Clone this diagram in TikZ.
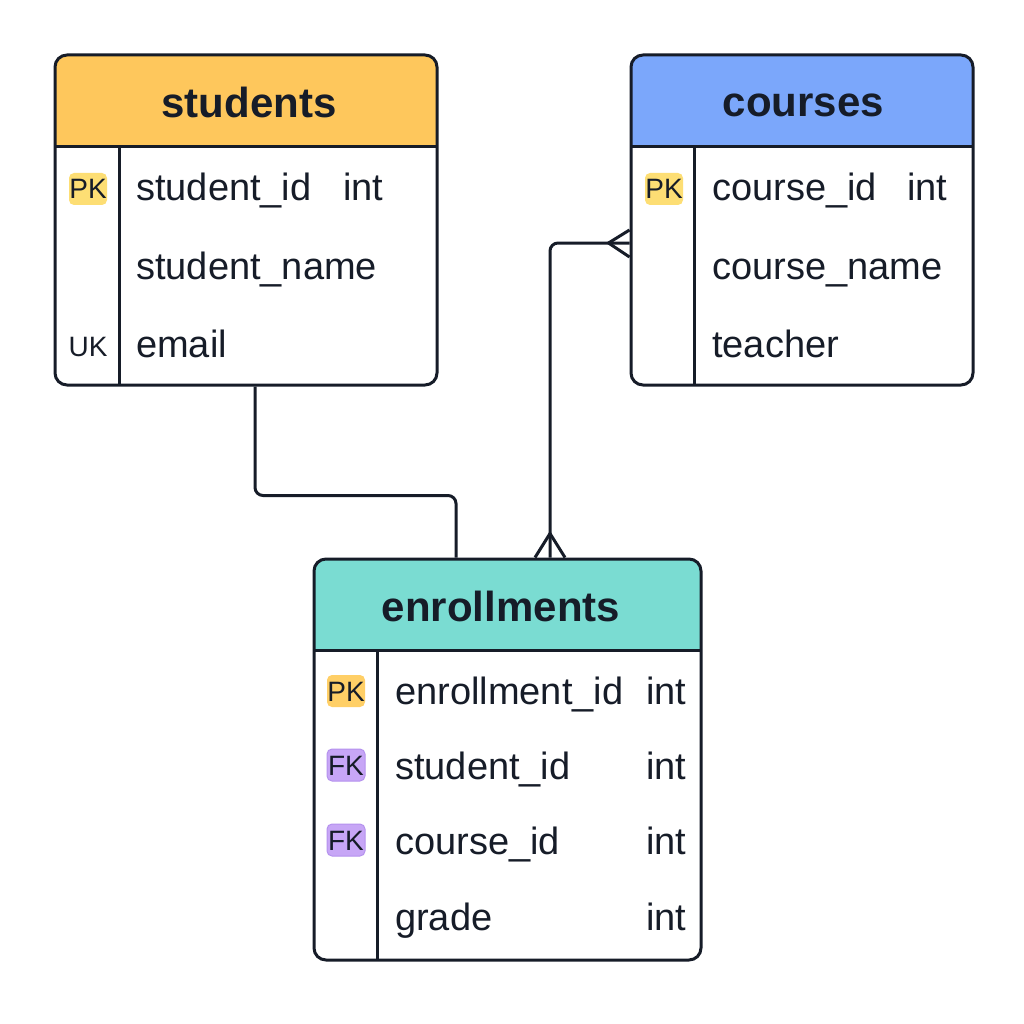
\documentclass[tikz,border=0pt]{standalone}
\usepackage{fontspec}
\setmainfont{Liberation Sans}
\definecolor{ink}{HTML}{161C28}
\definecolor{hstud}{HTML}{FEC75C}
\definecolor{hcour}{HTML}{7BA7FB}
\definecolor{henr}{HTML}{7ADCD2}
\definecolor{pkA}{HTML}{FDDE74}
\definecolor{pkB}{HTML}{FFCF66}
\definecolor{fkC}{HTML}{C7A6F6}
\definecolor{fkD}{HTML}{B592EE}
\tikzset{
  tablebox/.style={draw=ink, line width=3pt, rounded corners=12pt, inner sep=0pt, fill=none},
  sepline/.style={draw=ink, line width=3pt},
  conn/.style={draw=ink, line width=3pt, rounded corners=8pt, line join=round},
  foot/.style={draw=ink, line width=3pt, line join=miter},
  hdrtxt/.style={text=ink, font=\bfseries\fontsize{42}{48}\selectfont, anchor=base, inner sep=0pt},
  rowtxt/.style={text=ink, font=\fontsize{38}{44}\selectfont, anchor=base west, inner sep=0pt},
  badge/.style={rounded corners=5pt, minimum width=38pt, minimum height=32pt, inner sep=0pt,
     text height=20pt, text depth=0pt, text=ink, font=\fontsize{28}{32}\selectfont},
  keytxt/.style={text=ink, font=\fontsize{28}{32}\selectfont, anchor=base, inner sep=0pt}
}
\begin{document}
\begin{tikzpicture}[x=1pt,y=-1pt]
\useasboundingbox (0,0) rectangle (1024,1024);
\fill[white] (0,0) rectangle (1024,1024);

% ---------- students ----------
\begin{scope}
  \clip[rounded corners=12pt] (55,55) rectangle (437,385);
  \fill[hstud] (55,55) rectangle (437,147);
\end{scope}
\node[tablebox, minimum width=382pt, minimum height=330pt] (students) at (246,220) {};
\draw[sepline] (55,147) -- (437,147);
\draw[sepline] (119,147) -- (119,385);
\node[hdrtxt] (sh) at (249,118) {students};
\node[badge, fill=pkA] (spk) at (88,189) {PK};
\node[keytxt] (suk) at (88,356) {UK};
\node[rowtxt] (s1) at (136,201) {student\_id};
\node[rowtxt] (s1t) at (343,201) {int};
\node[rowtxt] (s2) at (136,279) {student\_name};
\node[rowtxt] (s3) at (136,357) {email};

% ---------- courses ----------
\begin{scope}
  \clip[rounded corners=12pt] (631,55) rectangle (973,385);
  \fill[hcour] (631,55) rectangle (973,147);
\end{scope}
\node[tablebox, minimum width=342pt, minimum height=330pt] (courses) at (802,220) {};
\draw[sepline] (631,147) -- (973,147);
\draw[sepline] (694,147) -- (694,385);
\node[hdrtxt] (ch) at (803.5,117) {courses};
\node[badge, fill=pkA] (cpk) at (664,189) {PK};
\node[rowtxt] (c1) at (712,201) {course\_id};
\node[rowtxt] (c1t) at (907,201) {int};
\node[rowtxt] (c2) at (712,279) {course\_name};
\node[rowtxt] (c3) at (712,357) {teacher};

% ---------- enrollments ----------
\begin{scope}
  \clip[rounded corners=12pt] (314,559) rectangle (701,960);
  \fill[henr] (314,559) rectangle (701,650);
\end{scope}
\node[tablebox, minimum width=387pt, minimum height=401pt] (enroll) at (507.5,759.5) {};
\draw[sepline] (314,650) -- (701,650);
\draw[sepline] (377,650) -- (377,960);
\node[hdrtxt] (eh) at (501,621) {enrollments};
\node[badge, fill=pkB] (epk) at (346,691) {PK};
\node[badge, fill=fkC, draw=fkD, line width=1pt] (efk1) at (346,765) {FK};
\node[badge, fill=fkC, draw=fkD, line width=1pt] (efk2) at (346,840) {FK};
\node[rowtxt] (e1) at (395,704) {enrollment\_id};
\node[rowtxt] (e1t) at (646,704) {int};
\node[rowtxt] (e2) at (395,779) {student\_id};
\node[rowtxt] (e2t) at (646,779) {int};
\node[rowtxt] (e3) at (395,854) {course\_id};
\node[rowtxt] (e3t) at (646,854) {int};
\node[rowtxt] (e4) at (395,930) {grade};
\node[rowtxt] (e4t) at (646,930) {int};

% ---------- connectors ----------
\draw[conn] ([xshift=9pt]students.south) -- ++(0,109) -| ([xshift=-51.5pt]enroll.north);
\draw[conn] ([xshift=42.5pt]enroll.north) |- ([yshift=-23pt]courses.west);
% crow's feet
\draw[foot] ([yshift=-10pt]courses.west) -- ([xshift=-21pt,yshift=-23pt]courses.west) -- ([yshift=-37pt]courses.west);
\draw[foot] ([xshift=27.5pt]enroll.north) -- ([xshift=42.5pt,yshift=24pt]enroll.north) -- ([xshift=57.5pt]enroll.north);
\end{tikzpicture}
\end{document}
